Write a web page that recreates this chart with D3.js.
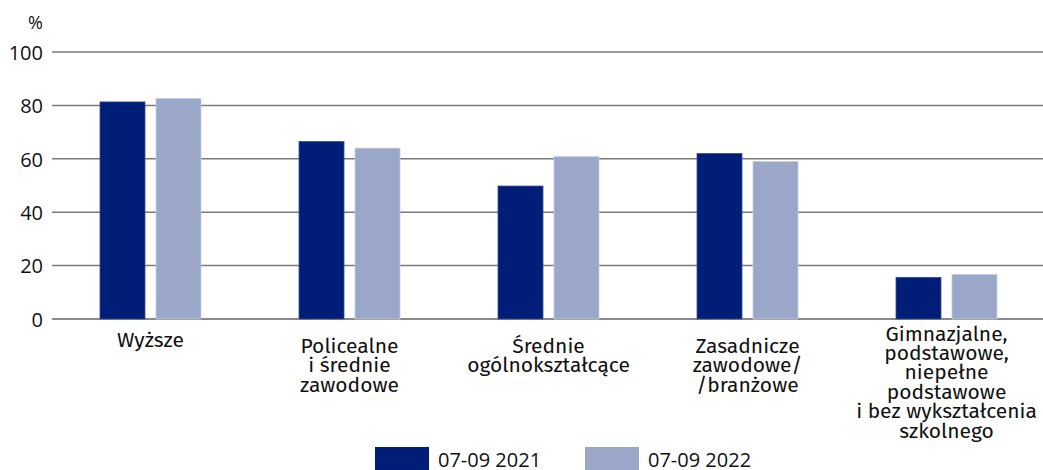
<!DOCTYPE html>
<html><head><meta charset="utf-8">
<script src="https://cdn.jsdelivr.net/npm/d3@7"></script>
<style>body{margin:0;background:#fff;} svg{display:block;}</style>
</head><body>
<svg id="c" width="1043" height="470"></svg>
<script>
const categories = [
  ["Wyższe"],
  ["Policealne", "i średnie", "zawodowe"],
  ["Średnie", "ogólnokształcące"],
  ["Zasadnicze", "zawodowe/", "/branżowe"],
  ["Gimnazjalne,", "podstawowe,", "niepełne", "podstawowe", "i bez wykształcenia", "szkolnego"]
];
const seriesNames = ["07-09 2021", "07-09 2022"];
const values2021 = [81.3, 66.5, 49.8, 62.0, 15.6];
const values2022 = [82.6, 64.0, 60.8, 59.0, 16.7];
const yTicks = [0, 20, 40, 60, 80, 100];
const colors = ["#001E78", "#9AA7C9"];

const svg = d3.select("#c");
const font = "'Fira Sans','Noto Sans',sans-serif";
const font2 = "'Open Sans','Noto Sans',sans-serif";
const x = d3.scaleBand().domain(d3.range(categories.length)).range([51, 1046]);
const groupW = 101;
const xs = d3.scaleBand().domain([0, 1]).range([0, groupW]).paddingInner(11 / 56);
const y = d3.scaleLinear().domain([0, 100]).range([319, 52]);

// gridlines
svg.append("g").selectAll("line").data(yTicks).join("line")
  .attr("x1", 52).attr("x2", 1043)
  .attr("y1", d => y(d)).attr("y2", d => y(d))
  .attr("stroke", d => d === 0 ? "#8a8a8a" : "#7a7a7a").attr("stroke-width", d => d === 0 ? 2 : 1.5);

const yAxis = d3.axisLeft(y).tickValues(yTicks).tickSize(0).tickPadding(0);
const ga = svg.append("g").attr("transform", "translate(43,0)").call(yAxis);
ga.select(".domain").remove();
ga.selectAll("text").attr("font-family", font2).attr("font-size", 20).attr("fill", "#111").attr("dy", "0.36em");

svg.append("text").attr("x", 43).attr("y", 29).attr("text-anchor", "end")
  .attr("font-family", font2).attr("font-size", 18).attr("fill", "#111").text("%");

const series = [values2021, values2022];
series.forEach((vals, s) => {
  svg.append("g").selectAll("rect").data(vals).join("rect")
    .attr("x", (d, i) => x(i) + (x.bandwidth() - groupW) / 2 + xs(s))
    .attr("width", xs.bandwidth())
    .attr("y", d => y(d))
    .attr("height", d => y(0) - y(d))
    .attr("fill", colors[s])
    .attr("stroke", s === 0 ? "#3a4f95" : "#c5cce0").attr("stroke-width", 0.8);
});

// category labels
const lab = svg.append("g");
categories.forEach((lines, i) => {
  const y0 = lines.length === 1 ? 347 : (lines.length > 4 ? 340.5 : 353);
  const t = lab.append("text").attr("font-family", font).attr("font-size", 21).attr("fill", "#111")
    .attr("text-anchor", "middle");
  lines.forEach((l, j) => {
    t.append("tspan").attr("x", x(i) + x.bandwidth() / 2).attr("y", y0 + j * 19.4).text(l);
  });
});

// legend
const leg = svg.append("g");
const legX = [375, 585];
seriesNames.forEach((n, s) => {
  leg.append("rect").attr("x", legX[s]).attr("y", 447).attr("width", 54).attr("height", 26).attr("fill", colors[s]);
  leg.append("text").attr("x", legX[s] + 63).attr("y", 467).attr("font-family", font2)
    .attr("font-size", 20).attr("fill", "#111").text(n);
});
</script>
</body></html>
